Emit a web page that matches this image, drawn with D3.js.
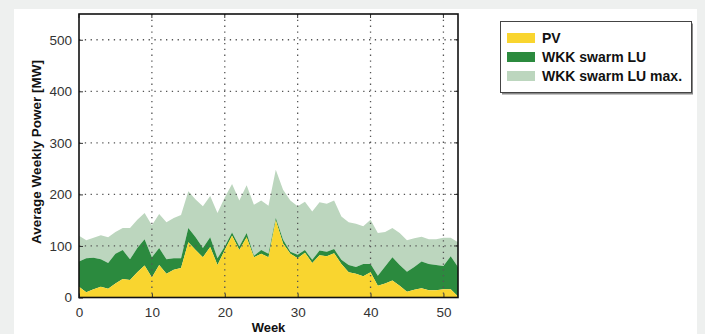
<!DOCTYPE html>
<html><head><meta charset="utf-8">
<script src="https://cdn.jsdelivr.net/npm/d3@7"></script>
<style>
html,body{margin:0;padding:0;background:#eef0ef;}
svg{display:block;font-family:"Liberation Sans",Arial,sans-serif;}
</style></head>
<body><svg id="c" width="705" height="334"></svg>
<script>
const weeks = d3.range(0, 53);
// PV average weekly power [MW]
const pv = [21,10,16,21,17,27,36,34,49,62,39,63,46,54,57,107,92,78,98,63,92,120,92,117,78,85,78,150,105,85,76,87,67,82,80,86,65,49,46,41,49,23,27,33,23,11,15,18,14,14,16,16,2];
// WKK swarm LU (stacked on PV)
const wkkLU = [49,66,61,53,50,58,56,40,47,51,39,33,28,22,19,28,25,18,19,13,7,6,7,8,3,7,7,4,7,4,7,5,6,9,9,8,8,14,13,24,16,19,33,45,40,39,44,52,51,49,45,64,57];
// WKK swarm LU max. (additional, stacked on top)
const wkkLUmax = [50,35,39,47,50,42,43,61,55,51,62,66,72,78,84,71,73,81,80,88,95,94,89,93,99,96,93,94,97,99,94,94,94,94,93,94,84,83,84,73,86,83,67,57,62,61,56,48,48,50,55,36,48];
const yTicks = [0,100,200,300,400,500];
const xTicks = [0,10,20,30,40,50];
const seriesNames = ["PV","WKK swarm LU","WKK swarm LU max."];
const seriesColors = ["#f9d52f","#2b8a3e","#bcd6be"];

const svg = d3.select("#c");
// white panel
svg.append("rect").attr("x",14).attr("y",9).attr("width",683).attr("height",330).attr("fill","#ffffff");

const L=79, R=458, T=14, B=297.5;
const x = d3.scaleLinear().domain([0,52]).range([L,R]);
const y = d3.scaleLinear().domain([0,550]).range([B,T]);

const table = weeks.map((w,i)=>({week:w, pv:pv[i], lu:wkkLU[i], max:wkkLUmax[i]}));
const stack = d3.stack().keys(["pv","lu","max"])(table);
const area = d3.area().x(d=>x(d.data.week)).y0(d=>y(d[0])).y1(d=>y(d[1]));
const g = svg.append("g");
stack.slice().reverse().forEach((s)=>{
  g.append("path").attr("d",area(s)).attr("fill",seriesColors[s.index]);
});

// grid
const grid = svg.append("g").attr("stroke","#555").attr("stroke-width",1.3).attr("stroke-dasharray","1.3,4.5");
xTicks.filter(t=>t>0).forEach(t=>grid.append("line").attr("x1",x(t)).attr("x2",x(t)).attr("y1",T).attr("y2",B));
yTicks.filter(t=>t>0).forEach(t=>grid.append("line").attr("x1",L).attr("x2",R).attr("y1",y(t)).attr("y2",y(t)));

// axes
const ax = svg.append("g").attr("transform",`translate(0,${B})`).call(d3.axisBottom(x).tickValues(xTicks).tickSize(-4).tickPadding(10));
const ay = svg.append("g").attr("transform",`translate(${L},0)`).call(d3.axisLeft(y).tickValues(yTicks).tickSize(-4).tickPadding(7));
[ax,ay].forEach(a=>{
  a.select(".domain").remove();
  a.selectAll(".tick line").attr("stroke","#333");
  a.selectAll("text").attr("font-size",13.5).attr("fill","#333").attr("font-family","'Liberation Sans',Arial,sans-serif");
});
// right / top ticks
const tk = svg.append("g").attr("stroke","#333");
yTicks.forEach(t=>tk.append("line").attr("x1",R).attr("x2",R-4).attr("y1",y(t)).attr("y2",y(t)));
xTicks.forEach(t=>tk.append("line").attr("x1",x(t)).attr("x2",x(t)).attr("y1",T).attr("y2",T+4));

// frame
svg.append("rect").attr("x",L).attr("y",T).attr("width",R-L).attr("height",B-T).attr("fill","none").attr("stroke","#111").attr("stroke-width",1.6);

// axis titles
svg.append("text").attr("x",(L+R)/2).attr("y",332).attr("text-anchor","middle").attr("font-size",13).attr("font-weight","bold").attr("fill","#111").text("Week");
svg.append("text").attr("transform","translate(41,152) rotate(-90)").attr("text-anchor","middle").attr("font-size",13.5).attr("font-weight","bold").attr("fill","#111").text("Average Weekly Power [MW]");

// legend
const lg = svg.append("g");
lg.append("rect").attr("x",502).attr("y",23.5).attr("width",191).attr("height",71).attr("fill","#888");
lg.append("rect").attr("x",500.5).attr("y",21.5).attr("width",191).attr("height",71).attr("fill","#fff").attr("stroke","#444").attr("stroke-width",1);
seriesNames.forEach((n,i)=>{
  const cy = 38 + i*19;
  lg.append("rect").attr("x",507).attr("y",cy-5).attr("width",28).attr("height",10).attr("fill",seriesColors[i]);
  lg.append("text").attr("x",542).attr("y",cy+5).attr("font-size",14).attr("font-weight","bold").attr("fill","#111").text(n);
});
</script></body></html>
